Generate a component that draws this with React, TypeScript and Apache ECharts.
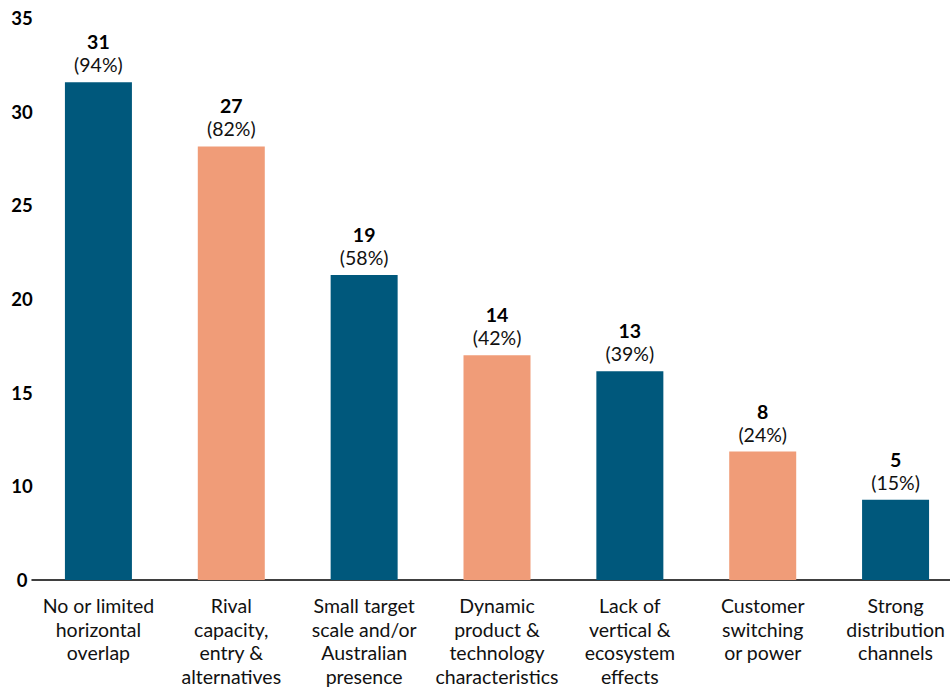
import React, { useEffect, useRef } from "react";
import * as echarts from "echarts";

const categories = [
  "No or limited\nhorizontal\noverlap",
  "Rival\ncapacity,\nentry &\nalternatives",
  "Small target\nscale and/or\nAustralian\npresence",
  "Dynamic\nproduct &\ntechnology\ncharacteristics",
  "Lack of\nvertical &\necosystem\neffects",
  "Customer\nswitching\nor power",
  "Strong\ndistribution\nchannels",
];
const counts = [31, 27, 19, 14, 13, 8, 5];
const percents = [94, 82, 58, 42, 39, 24, 15];
const yTickLabels = ["0", "10", "15", "20", "25", "30", "35"];
const barColors = ["#00587C", "#F09C78"];

const FONT = "Lato, 'Open Sans', sans-serif";

export default function App() {
  const ref = useRef<HTMLDivElement>(null);
  useEffect(() => {
    if (!ref.current) return;
    const chart = echarts.init(ref.current, undefined, { renderer: "svg" });
    const step = 35 / 6;
    chart.setOption({
      animation: false,
      textStyle: { fontFamily: FONT },
      grid: { left: 32, right: 0, top: 18, bottom: 108, containLabel: false },
      xAxis: {
        type: "category",
        data: categories,
        axisLine: { show: true, lineStyle: { color: "#000", width: 1.5 } },
        axisTick: { show: false },
        axisLabel: {
          color: "#111",
          fontSize: 19.5,
          fontFamily: FONT,
          lineHeight: 23.5,
          margin: 14,
          interval: 0,
        },
      },
      yAxis: {
        type: "value",
        min: 0,
        max: 35,
        interval: step,
        splitLine: { show: false },
        axisLine: { show: false },
        axisTick: { show: false },
        axisLabel: {
          color: "#000",
          fontSize: 18.5,
          fontWeight: "bold",
          fontFamily: FONT,
          align: "center",
          margin: 10,
          formatter: (v: number) => yTickLabels[Math.round(v / step)] ?? "",
        },
      },
      series: [
        {
          type: "bar",
          barWidth: 67,
          data: counts.map((c, i) => ({
            value: c,
            itemStyle: { color: barColors[i % 2] },
          })),
          label: {
            show: true,
            position: "top",
            distance: 6,
            formatter: (p: any) => `{b|${counts[p.dataIndex]}}\n{p|(${percents[p.dataIndex]}%)}`,
            rich: {
              b: { fontSize: 19.5, fontWeight: "bold", color: "#000", fontFamily: FONT, lineHeight: 23 },
              p: { fontSize: 19.5, color: "#111", fontFamily: FONT, lineHeight: 23 },
            },
          },
        },
      ],
    });
    return () => chart.dispose();
  }, []);
  return (
    <div
      style={{
        position: "absolute",
        left: 0,
        top: 0,
        width: 950,
        height: 688,
        overflow: "hidden",
      }}
    >
      <div ref={ref} style={{ width: 962, height: 688 }} />
    </div>
  );
}
